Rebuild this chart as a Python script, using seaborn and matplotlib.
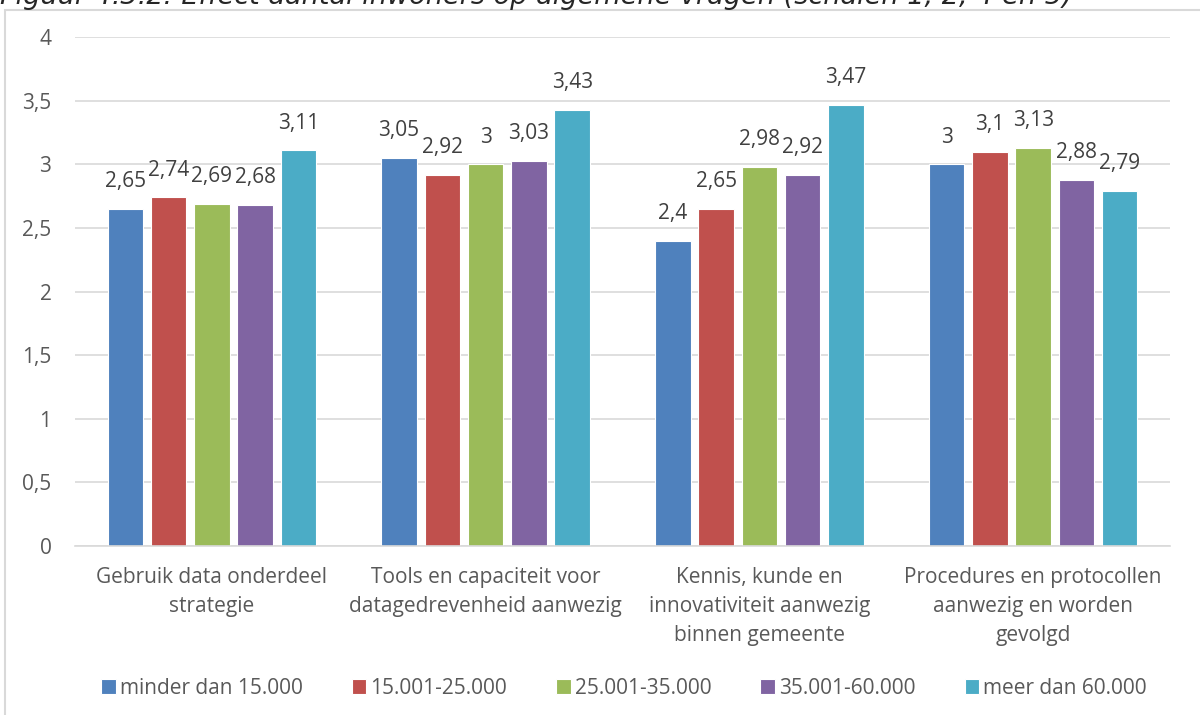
import matplotlib
matplotlib.use("Agg")
import matplotlib.pyplot as plt
from matplotlib.patches import Rectangle
import seaborn as sns
import pandas as pd

# Categories (multi-line axis labels)
categories = [
    "Gebruik data onderdeel\nstrategie",
    "Tools en capaciteit voor\ndatagedrevenheid aanwezig",
    "Kennis, kunde en\ninnovativiteit aanwezig\nbinnen gemeente",
    "Procedures en protocollen\naanwezig en worden\ngevolgd",
]
groups = ["minder dan 15.000", "15.001-25.000", "25.001-35.000",
          "35.001-60.000", "meer dan 60.000"]

minder_15000 = [2.65, 3.05, 2.40, 3.00]
van_15001_25000 = [2.74, 2.92, 2.65, 3.10]
van_25001_35000 = [2.69, 3.00, 2.98, 3.13]
van_35001_60000 = [2.68, 3.03, 2.92, 2.88]
meer_60000 = [3.11, 3.43, 3.47, 2.79]

yticks = [0, 0.5, 1, 1.5, 2, 2.5, 3, 3.5, 4]
ytick_labels = ["0", "0,5", "1", "1,5", "2", "2,5", "3", "3,5", "4"]

colors = ["#4F81BD", "#C0504D", "#9BBB59", "#8064A2", "#4BACC6"]

series = [minder_15000, van_15001_25000, van_25001_35000,
          van_35001_60000, meer_60000]
rows = []
for g, vals in zip(groups, series):
    for c, v in zip(categories, vals):
        rows.append({"categorie": c, "groep": g, "waarde": v})
df = pd.DataFrame(rows)

sns.set_theme(style="white")
plt.rcParams["font.family"] = ["Open Sans", "DejaVu Sans"]

fig = plt.figure(figsize=(12, 7.15), dpi=100)
ax = fig.add_axes([0.0625, 0.2364, 0.9125, 0.7116])

sns.barplot(data=df, x="categorie", y="waarde", hue="groep",
            order=categories, hue_order=groups, palette=colors,
            width=0.79, gap=0.18, saturation=1, errorbar=None,
            edgecolor="white", linewidth=0.8, ax=ax, legend=True)

ax.set_xlim(-0.5, 3.5)
ax.set_ylim(0, 4)
ax.set_yticks(yticks)
ax.set_yticklabels(ytick_labels)
ax.set_xlabel("")
ax.set_ylabel("")
ax.yaxis.grid(True, color="#D9D9D9", linewidth=1.2)
ax.set_axisbelow(True)
for s in ["top", "right", "left"]:
    ax.spines[s].set_visible(False)
ax.spines["bottom"].set_color("#D9D9D9")
ax.spines["bottom"].set_linewidth(1.2)
ax.tick_params(axis="y", length=0, pad=17, labelsize=15, labelcolor="#595959")
ax.tick_params(axis="x", length=0, pad=15, labelsize=15, labelcolor="#595959")
for lbl in ax.get_xticklabels():
    lbl.set_linespacing(1.5)


def fmt(v):
    s = f"{v:.2f}".rstrip("0").rstrip(".")
    return s.replace(".", ",")


for container in ax.containers:
    labels = [fmt(b.get_height()) for b in container]
    ax.bar_label(container, labels=labels, padding=12, fontsize=15,
                 color="#404040")

# Legend along the bottom
handles, labels = ax.get_legend_handles_labels()
ax.get_legend().remove()
fig.legend(handles, labels, loc="center", bbox_to_anchor=(0.52, 1 - 688 / 715),
           ncol=5, frameon=False, fontsize=15, handlelength=0.7,
           handleheight=0.7, handletextpad=0.2, columnspacing=2.35,
           labelcolor="#595959")

# Chart frame
fig.patches.append(Rectangle((5 / 1200, -0.1), 1.2, 1 - 9.5 / 715 + 0.1,
                             transform=fig.transFigure, fill=False,
                             edgecolor="#D9D9D9", linewidth=1.5))

# Figure caption running off the top edge
fig.text(0.0, 1 - 4 / 715,
         "Figuur 4.3.2: Effect aantal inwoners op algemene vragen (schalen 1, 2, 4 en 5)",
         fontsize=19.5, style="italic", color="#262626", va="baseline",
         ha="left", family=["DejaVu Sans"])

fig.savefig("out.png", dpi=100)
